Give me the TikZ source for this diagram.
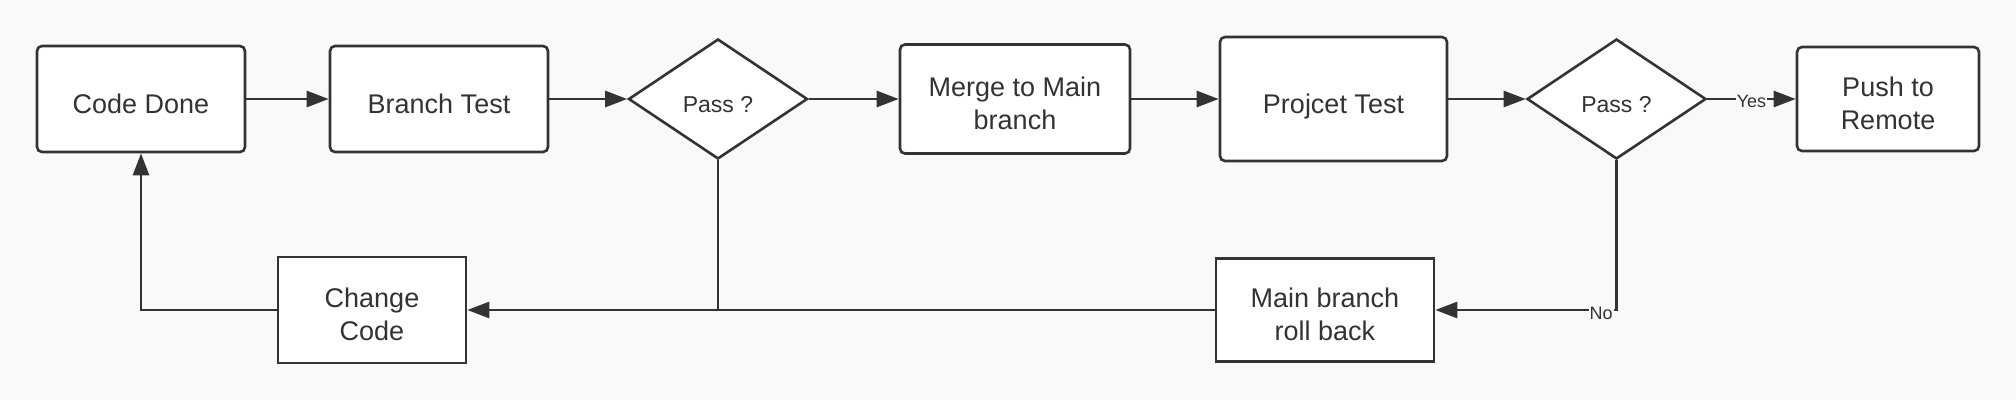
\documentclass[tikz,border=0pt]{standalone}
\usepackage{fontspec}
\setmainfont{Liberation Sans}
\usetikzlibrary{arrows.meta,shapes.geometric}
\definecolor{bg}{HTML}{F9F9F9}
\definecolor{ink}{HTML}{333333}
\newcommand\boxtxt[1]{\raisebox{-7.5pt}[\height][\depth]{\begin{tabular}{@{}c@{}}#1\end{tabular}}}
\tikzset{
  base/.style={draw=ink, fill=white, line width=2.6pt, inner sep=0pt, text=ink,
    font=\fontsize{27}{33}\selectfont},
  rbox/.style={base, rounded corners=5pt},
  sbox/.style={base},
  decide/.style={base, diamond, font=\fontsize{23}{28}\selectfont},
  conn/.style={draw=ink, line width=2.6pt},
  arr/.style={conn, -{Triangle[length=22pt,width=16pt]}},
  lbl/.style={fill=bg, inner sep=1pt, text=ink, font=\fontsize{18}{20}\selectfont}
}
\begin{document}
\begin{tikzpicture}[x=1pt,y=-1pt]
\fill[bg] (0,0) rectangle (2016,400);
\useasboundingbox (0,0) rectangle (2016,400);
\node[rbox, minimum width=208pt, minimum height=106pt] (code) at (141,99) {\boxtxt{Code Done}};
\node[rbox, minimum width=218pt, minimum height=106pt] (btest) at (439,99) {\boxtxt{Branch Test}};
\node[decide, minimum width=179pt, minimum height=120pt] (d1) at (718,99) {\boxtxt{Pass ?}};
\node[rbox, minimum width=230pt, minimum height=109pt] (merge) at (1015,99) {\boxtxt{Merge to Main\\branch}};
\node[rbox, minimum width=227pt, minimum height=124pt] (ptest) at (1333.5,99) {\boxtxt{Projcet Test}};
\node[decide, minimum width=179pt, minimum height=120pt] (d2) at (1616.5,99) {\boxtxt{Pass ?}};
\node[rbox, minimum width=182pt, minimum height=104pt] (push) at (1888,99) {\boxtxt{Push to\\Remote}};
\node[sbox, minimum width=188pt, minimum height=106pt] (change) at (372,310) {\boxtxt{Change\\Code}};
\node[sbox, minimum width=218pt, minimum height=103pt] (roll) at (1325,310) {\boxtxt{Main branch\\roll back}};
\coordinate (j1) at (718,310);
\coordinate (c2) at (1616.5,310);
\coordinate (c3) at (141,310);

\draw[arr] (code.east) -- (btest.west);
\draw[arr] (btest.east) -- (d1.west);
\draw[arr] (d1.east) -- (merge.west);
\draw[arr] (merge.east) -- (ptest.west);
\draw[arr] (ptest.east) -- (d2.west);
\draw[arr] (d2.east) -- node[lbl, pos=0.5, yshift=-2pt] (yes) {Yes} (push.west);
\draw[arr] (d2.south) -- (c2) -- (roll.east);
\node[lbl] (no) at (1601,313) {No};
\draw[arr] (roll.west) -- (change.east);
\draw[conn] (d1.south) -- (j1);
\draw[arr] (change.west) -- (c3) -- (code.south);
\end{tikzpicture}
\end{document}
